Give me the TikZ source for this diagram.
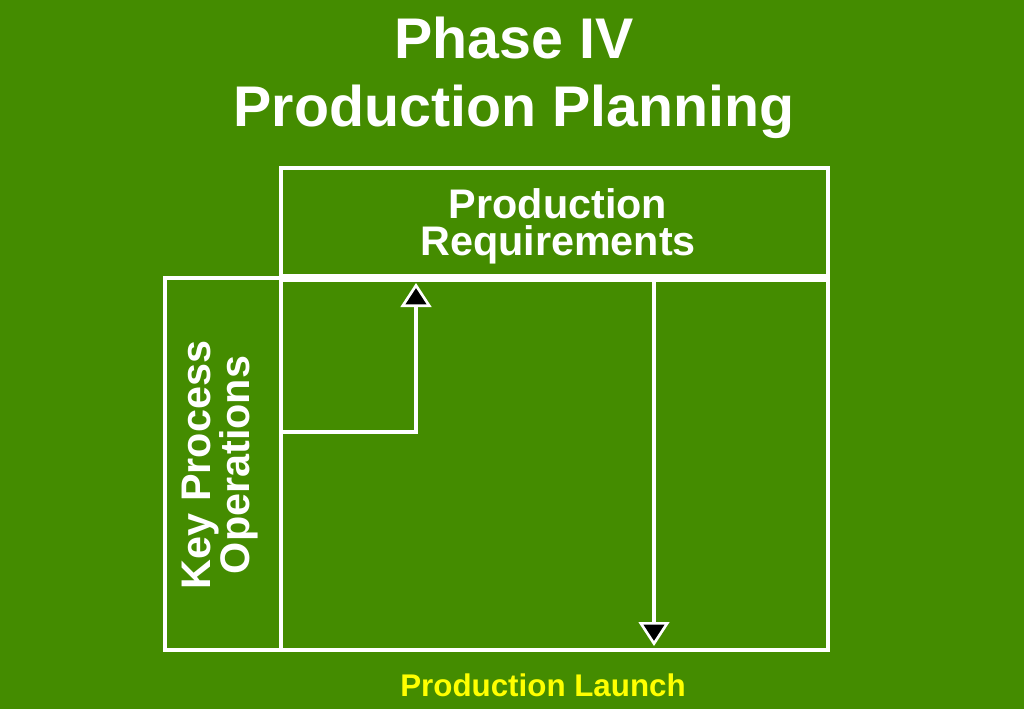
\documentclass[tikz,border=0pt]{standalone}
\usepackage{fontspec}
\setmainfont{Liberation Sans}
\usetikzlibrary{arrows.meta}
\definecolor{bggreen}{RGB}{68,140,0}
\definecolor{launchyellow}{RGB}{255,255,0}
\begin{document}
\begin{tikzpicture}[x=0.75pt,y=0.75pt,yscale=-1,xscale=1]
\tikzset{
  box/.style={draw=white, line width=3pt},
  label/.style={text=white, font=\bfseries, align=center, inner sep=0pt},
  flow/.style={draw=white, line width=3pt, -{Triangle[fill=black, length=18pt, width=23pt, line width=2pt]}}
}
% background
\fill [bggreen] (0,0) rectangle (1024,709);
\useasboundingbox (0,0) rectangle (1024,709);

% Title
\node [label, font=\fontsize{43}{51}\selectfont\bfseries] (title) at (514,78) {Phase IV\\Production Planning};

% Boxes
\draw [box] (281,168) rectangle (828,276);
\draw [box] (281,280) rectangle (828,650);
\draw [box] (165,278) rectangle (281,650);

% Text Node
\node [label, font=\fontsize{31}{28}\selectfont\bfseries] (req) at (558,226) {Production\\Requirements};
% Text Node
\node [label, font=\fontsize{31}{28}\selectfont\bfseries, rotate=90] (kpo) at (220,465) {Key Process\\Operations};
% Text Node
\node [label, text=launchyellow, font=\fontsize{23.5}{24}\selectfont\bfseries] (launch) at (543,685) {Production Launch};

% Arrows
\coordinate (upstart) at (283,432);
\coordinate (upbend) at (416,432);
\coordinate (upend) at (416,283);
\coordinate (downstart) at (654,282);
\coordinate (downend) at (654,646);
\draw [flow] (upstart) -- (upbend) -- (upend);
\draw [flow] (downstart) -- (downend);
\end{tikzpicture}
\end{document}
